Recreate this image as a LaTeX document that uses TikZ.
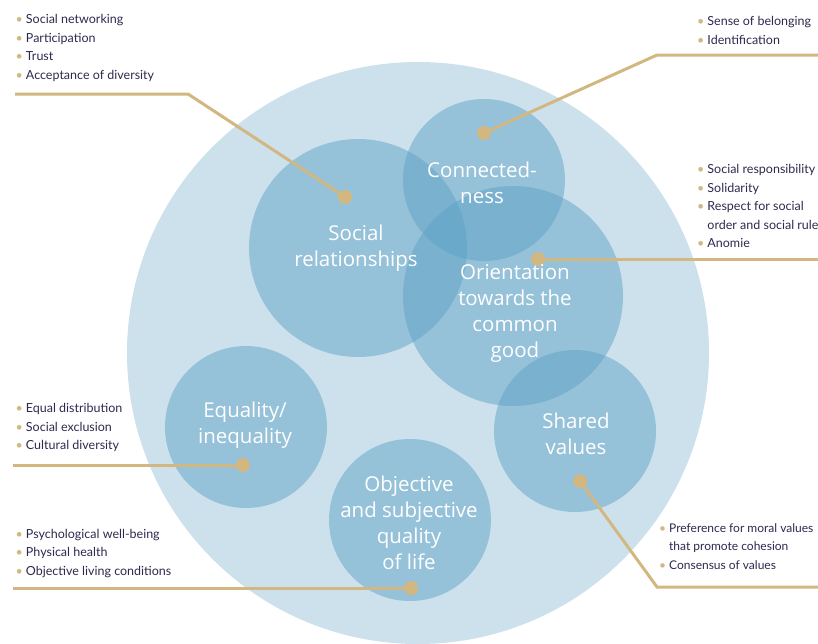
\documentclass[tikz,border=0pt]{standalone}
\usepackage{fontspec}
\setmainfont{Lato}
\newfontfamily\bubblefont{Open Sans}

\definecolor{outerblue}{RGB}{205,225,237}
\definecolor{innerblue}{RGB}{95,163,199}
\definecolor{gold}{RGB}{210,183,128}
\definecolor{ink}{RGB}{44,42,78}

\newcommand{\bul}{\textcolor{gold}{\textbullet}\hskip 3pt}

\begin{document}
\begin{tikzpicture}[x=1pt, y=-1pt,
	bubble/.style={circle, inner sep=0pt, fill=innerblue, fill opacity=0.5, minimum size=162pt},
	bubbletext/.style={text=white, align=center, inner sep=0pt, font=\bubblefont\fontsize{20.5}{26}\selectfont},
	items/.style={anchor=north west, inner sep=0pt, align=left, text=ink, font=\fontsize{12.5}{18.5}\selectfont},
	knob/.style={circle, fill=gold, inner sep=0pt, minimum size=14pt},
	link/.style={draw=gold, line width=3pt}]
	\useasboundingbox (0,0) rectangle (818,643);

	\node[circle, inner sep=0pt, fill=outerblue, minimum size=582pt] (whole) at (418,353) {};

	\node[bubble, minimum size=218pt] (social)      at (358,248) {};
	\node[bubble]                     (connected)   at (484,180) {};
	\node[bubble, minimum size=220pt] (orientation) at (513,296) {};
	\node[bubble]                     (equality)    at (246,427) {};
	\node[bubble]                     (shared)      at (575,431) {};
	\node[bubble]                     (quality)     at (410,520) {};

	\node[knob] (socialdot)      at (345,197) {};
	\node[knob] (connecteddot)   at (484,133) {};
	\node[knob] (orientationdot) at (538,259) {};
	\node[knob] (equalitydot)    at (243,465) {};
	\node[knob] (shareddot)      at (580,481) {};
	\node[knob] (qualitydot)     at (411,588) {};

	\coordinate (socialbend) at (188,94);
	\coordinate (socialend)  at (15,94);
	\coordinate (connectedbend) at (657,55);
	\coordinate (connectedend)  at (818,55);
	\coordinate (orientationend) at (818,259);
	\coordinate (equalityend) at (13,465);
	\coordinate (sharedbend) at (657,587);
	\coordinate (sharedend)  at (818,587);
	\coordinate (qualityend) at (13,588);

	\draw[link] (socialdot.center) -- (socialbend) -- (socialend);
	\draw[link] (connecteddot.center) -- (connectedbend) -- (connectedend);
	\draw[link] (orientationdot.center) -- (orientationend);
	\draw[link] (equalitydot.center) -- (equalityend);
	\draw[link] (shareddot.center) -- (sharedbend) -- (sharedend);
	\draw[link] (qualitydot.center) -- (qualityend);

	\node[bubbletext] (socialtext)      at (356,248) {Social\\relationships};
	\node[bubbletext] (connectedtext)   at (482,183) {Connected-\\ness};
	\node[bubbletext] (orientationtext) at (515,313) {Orientation\\towards the\\common\\good};
	\node[bubbletext] (equalitytext)    at (245,425) {Equality/\\inequality};
	\node[bubbletext] (sharedtext)      at (576,434) {Shared\\values};
	\node[bubbletext] (qualitytext)     at (409,523) {Objective\\and subjective\\quality\\of life};

	\node[items] (sociallist) at (15.5,14.5)
		{\bul Social networking\\\bul Participation\\\bul Trust\\\bul Acceptance of diversity};
	\node[items] (connectedlist) at (697,16.5)
		{\bul Sense of belonging\\\bul Identification};
	\node[items] (orientationlist) at (697,164.5)
		{\bul Social responsibility\\\bul Solidarity\\\bul Respect for social\\\hphantom{\bul}order and social rule\\\bul Anomie};
	\node[items] (equalitylist) at (15.5,403.5)
		{\bul Equal distribution\\\bul Social exclusion\\\bul Cultural diversity};
	\node[items] (qualitylist) at (15.5,529)
		{\bul Psychological well-being\\\bul Physical health\\\bul Objective living conditions};
	\node[items, font=\fontsize{12}{18.5}\selectfont] (sharedlist) at (659,523)
		{\bul Preference for moral values\\\hphantom{\bul}that promote cohesion\\\bul Consensus of values};
\end{tikzpicture}
\end{document}
